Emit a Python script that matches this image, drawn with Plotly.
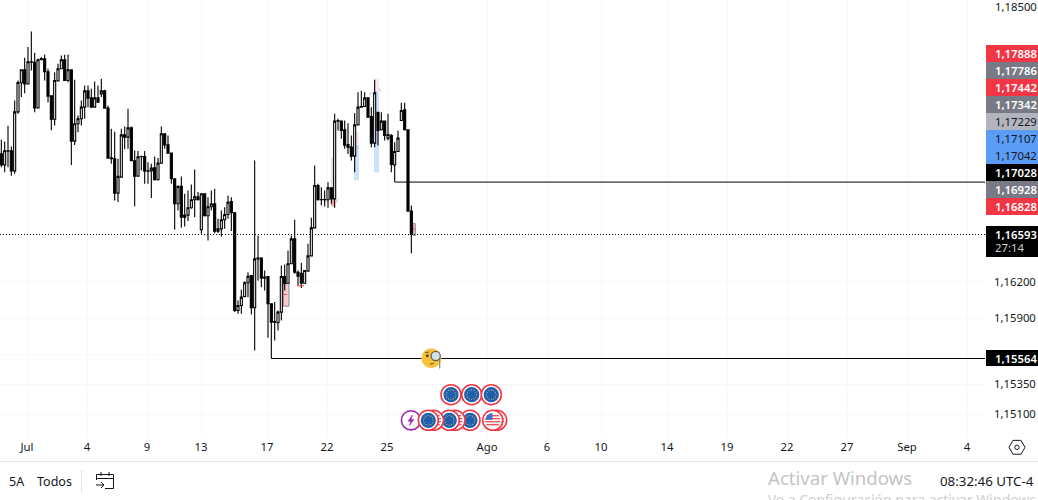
import math
import plotly.graph_objects as go

W, H = 1038, 500

opens = [1.17263,1.17171,1.17285,1.17288,1.17121,1.17611,1.17852,1.17960,1.17843,1.18026,1.18023,1.17644,1.18051,1.18051,1.17943,1.17744,1.17550,1.17868,1.17968,1.18043,
 1.17871,1.17960,1.17368,1.17512,1.17553,1.17650,1.17785,1.17727,1.17650,1.17727,1.17760,1.17785,1.17642,1.17229,1.17221,1.16936,1.17069,1.17420,1.17401,1.17478,
 1.17205,1.17077,1.17238,1.17240,1.17119,1.17121,1.17146,1.17047,1.17185,1.17429,1.17337,1.17268,1.17055,1.16848,1.16992,1.16737,1.16754,1.16815,1.16881,1.16906,
 1.16632,1.16931,1.16748,1.16823,1.16848,1.16621,1.16640,1.16715,1.16759,1.16867,1.16773,1.15962,1.16004,1.16079,1.16192,1.16253,1.15985,1.16391,1.16397,1.16231,
 1.16244,1.16018,1.15866,1.15860,1.15949,1.16244,1.16189,1.16350,1.16557,1.16280,1.16272,1.16189,1.16289,1.16416,1.16648,1.17000,1.16881,1.16883,1.16881,1.16980,
 1.16889,1.17534,1.17534,1.17462,1.17340,1.17318,1.17243,1.17503,1.17650,1.17655,1.17727,1.17572,1.17351,1.17608,1.17462,1.17534,1.17393,1.17415,1.17171,1.17282,
 1.17539,1.17628,1.17462,1.16787]
highs = [1.17379,1.17365,1.17495,1.17323,1.17705,1.17871,1.17960,1.18059,1.18150,1.18278,1.18101,1.18051,1.18065,1.18087,1.17968,1.17744,1.17940,1.18009,1.18079,1.18084,
 1.18087,1.17960,1.17877,1.17581,1.17705,1.17830,1.17830,1.17802,1.17863,1.17830,1.17885,1.17794,1.17664,1.17470,1.17445,1.17221,1.17470,1.17489,1.17636,1.17489,
 1.17290,1.17285,1.17249,1.17285,1.17193,1.17180,1.17240,1.17227,1.17489,1.17429,1.17415,1.17268,1.17055,1.17000,1.17075,1.16931,1.16958,1.17008,1.17133,1.16945,
 1.16936,1.16936,1.16903,1.16958,1.16972,1.16723,1.16792,1.16820,1.16917,1.16903,1.16780,1.16045,1.16134,1.16206,1.16280,1.16258,1.17207,1.16585,1.16405,1.16294,
 1.16244,1.16018,1.16032,1.15962,1.16336,1.16344,1.16460,1.16585,1.16715,1.16294,1.16358,1.16294,1.16516,1.16731,1.17166,1.17014,1.16986,1.16958,1.17027,1.16985,
 1.17594,1.17553,1.17539,1.17539,1.17517,1.17415,1.17600,1.17774,1.17783,1.17774,1.17733,1.17650,1.17877,1.17608,1.17608,1.17539,1.17594,1.17428,1.17359,1.17456,
 1.17686,1.17686,1.17462,1.16834]
lows = [1.17152,1.17110,1.17152,1.17080,1.17097,1.17594,1.17733,1.17766,1.17843,1.17954,1.17608,1.17644,1.18043,1.17871,1.17691,1.17459,1.17498,1.17868,1.17968,1.17871,
 1.17857,1.17169,1.17335,1.17442,1.17498,1.17553,1.17650,1.17644,1.17644,1.17691,1.17733,1.17636,1.17227,1.17180,1.16875,1.16862,1.17069,1.17301,1.17304,1.17205,
 1.16828,1.17077,1.17124,1.17014,1.17014,1.16895,1.17041,1.17041,1.17185,1.17304,1.17268,1.17014,1.16632,1.16792,1.16649,1.16660,1.16704,1.16806,1.16737,1.16875,
 1.16599,1.16743,1.16543,1.16792,1.16604,1.16604,1.16576,1.16640,1.16723,1.16621,1.15949,1.15935,1.15935,1.16073,1.16073,1.15929,1.15630,1.16211,1.16156,1.16128,
 1.15736,1.15564,1.15713,1.15796,1.15879,1.16128,1.16184,1.16350,1.16267,1.16170,1.16150,1.16189,1.16289,1.16416,1.16648,1.16875,1.16834,1.16825,1.16814,1.16848,
 1.16814,1.17456,1.17387,1.17304,1.17262,1.17207,1.17110,1.17503,1.17650,1.17655,1.17567,1.17318,1.17318,1.17332,1.17456,1.17373,1.17373,1.17110,1.17028,1.17282,
 1.17539,1.17456,1.16787,1.16438]
closes = [1.17171,1.17288,1.17288,1.17121,1.17611,1.17854,1.17960,1.17843,1.18026,1.18023,1.17644,1.18043,1.18043,1.17943,1.17741,1.17550,1.17871,1.17968,1.18043,1.17871,
 1.17960,1.17368,1.17512,1.17553,1.17650,1.17785,1.17725,1.17650,1.17727,1.17691,1.17785,1.17642,1.17227,1.17221,1.16936,1.17075,1.17420,1.17401,1.17478,1.17205,
 1.17077,1.17238,1.17240,1.17119,1.17121,1.17144,1.17047,1.17185,1.17429,1.17337,1.17268,1.17055,1.16848,1.16992,1.16737,1.16754,1.16815,1.16881,1.16906,1.16881,
 1.16931,1.16748,1.16823,1.16848,1.16621,1.16640,1.16715,1.16759,1.16861,1.16773,1.15962,1.16004,1.16073,1.16192,1.16247,1.15985,1.16391,1.16397,1.16231,1.16239,
 1.16018,1.15866,1.15870,1.15949,1.16244,1.16184,1.16350,1.16557,1.16280,1.16247,1.16189,1.16294,1.16416,1.16648,1.17000,1.16881,1.16883,1.16881,1.16980,1.16889,
 1.17534,1.17539,1.17456,1.17334,1.17318,1.17243,1.17503,1.17650,1.17655,1.17727,1.17567,1.17351,1.17769,1.17456,1.17534,1.17415,1.17423,1.17174,1.17282,1.17393,
 1.17622,1.17462,1.16787,1.16593]

date_tick_index = [7.7,25.7,43.7,59.9,79.7,97.7,115.7,145.7,163.7,179.9,199.7,217.7,235.7,253.7,271.7,289.7]
date_tick_text = ["Jul","4","9","13","17","22","25","Ago","6","10","14","19","22","27","Sep","4"]

price_ticks = [1.1620,1.1590,1.1560,1.1535,1.1510]
price_tick_text = ["1,16200","1,15900","1,15600","1,15350","1,15100"]

# right-hand price tags, top to bottom: text, background, text colour
tag_text = ["1,17888","1,17786","1,17442","1,17342","1,17229","1,17107","1,17042","1,17028","1,16928","1,16828"]
tag_fill = ["#f23645","#787b86","#f23645","#787b86","#b2b5be","#5b9cf6","#5b9cf6","#000000","#787b86","#f23645"]
tag_ink  = ["#ffffff","#ffffff","#ffffff","#ffffff","#131722","#131722","#131722","#ffffff","#ffffff","#ffffff"]

current_price = 1.16593
level_upper = 1.17028
level_upper_start = 118
level_lower = 1.15564
level_lower_start = 81

# zones: x0, x1, price0, price1, fill, outline
zones = [
 (84.6,86.3,1.16186,1.15998,"#f9c9ce","#8a8a95"),
 (105.8,107.3,1.17340,1.17042,"#cfe2fd",None),
 (105.8,107.3,1.17442,1.17342,"#fde6e8",None),
 (111.8,113.3,1.17786,1.17107,"#cfe2fd",None),
 (111.8,113.3,1.17888,1.17786,"#fde6e8",None),
 (98.9,100.1,1.16928,1.16828,"#f7a1a8",None),
 (98.9,99.6,1.17229,1.16983,"#e2e2e2",None),
 (123.5,124.2,1.16684,1.16585,"#f7c5c9","#8a8a95"),
]
red_ticks = [(88.7,90.8,1.16167),(84.7,85.6,1.16095),(123.5,124.0,1.16640)]
grey_marks = [(110.4,111.2,1.17749,1.17775),(113.3,113.9,1.17805,1.17781),
              (104.3,104.9,1.17303,1.17328),(106.5,107.1,1.17328,1.17303),
              (100.5,101.0,1.16860,1.16885),(97.0,97.6,1.16880,1.16860)]

XMAX = 295.1
XMIN = -0.4
YTOP = 1.185390
YBOT = 1.149125

fig = go.Figure()
fig.add_trace(go.Candlestick(
    x=list(range(len(opens))), open=opens, high=highs, low=lows, close=closes,
    increasing=dict(line=dict(color="#000000", width=1.1), fillcolor="#ffffff"),
    decreasing=dict(line=dict(color="#000000", width=1.1), fillcolor="#000000"),
    whiskerwidth=0, showlegend=False, hoverinfo="skip"))
for y_val, x_start, dash in [(level_upper, level_upper_start, "solid"),
                             (level_lower, level_lower_start, "solid"),
                             (current_price, XMIN, "1px,2px")]:
    fig.add_trace(go.Scatter(x=[x_start, XMAX], y=[y_val, y_val], mode="lines",
                             line=dict(color="#000000", width=1, dash=dash),
                             showlegend=False, hoverinfo="skip"))

shapes = []
for x0, x1, p0, p1, fill, line in zones:
    shapes.append(dict(type="rect", xref="x", yref="y", x0=x0, x1=x1, y0=p0, y1=p1,
                       fillcolor=fill, line=dict(color=line or fill, width=1 if line else 0),
                       layer="below"))
for x0, x1, p in red_ticks:
    shapes.append(dict(type="line", xref="x", yref="y", x0=x0, x1=x1, y0=p, y1=p,
                       line=dict(color="#f23645", width=1)))
for x0, x1, p0, p1 in grey_marks:
    shapes.append(dict(type="line", xref="x", yref="y", x0=x0, x1=x1, y0=p0, y1=p1,
                       line=dict(color="#b4b4b4", width=1), layer="below"))

px = lambda v: v / W
py = lambda v: 1 - v / H

def rect(x0, y0, x1, y1, fill, line=None):
    shapes.append(dict(type="rect", xref="paper", yref="paper", x0=px(x0), x1=px(x1),
                       y0=py(y1), y1=py(y0), fillcolor=fill,
                       line=dict(color=line or fill, width=1 if line else 0)))

def disc(cx, cy, r, fill, line=None, width=1.0):
    shapes.append(dict(type="circle", xref="paper", yref="paper", x0=px(cx - r), x1=px(cx + r),
                       y0=py(cy + r), y1=py(cy - r), fillcolor=fill,
                       line=dict(color=line or fill, width=width if line else 0)))

def path(points, color, width=1.0, close=False, fill=None):
    d = "M " + " L ".join(f"{px(a):.5f},{py(b):.5f}" for a, b in points) + (" Z" if close else "")
    shapes.append(dict(type="path", xref="paper", yref="paper", path=d,
                       line=dict(color=color, width=width),
                       fillcolor=fill or "rgba(0,0,0,0)"))

def eu(cx, cy):
    disc(cx, cy, 10, "#ffffff", "#f23645", 1.6)
    disc(cx, cy, 7.6, "#1f5fb0")
    for k in range(12):
        a = k * math.pi / 6
        disc(cx + 4.8 * math.cos(a), cy + 4.8 * math.sin(a), 0.55, "#f5c542")

def us(cx, cy):
    disc(cx, cy, 10, "#ffffff", "#f23645", 1.6)
    disc(cx, cy, 7.6, "#f7f7f7")
    for d, t in [(-4.6, 1.3), (-1.6, 1.3), (1.4, 1.3), (4.4, 1.3)]:
        half = math.sqrt(max(7.6 ** 2 - d ** 2, 0))
        path([(cx - half, cy + d), (cx + half, cy + d)], "#ef4a55", t)
    path([(cx - 5.6, cy - 4.7), (cx - 3, cy - 6.4), (cx - 0.5, cy - 7.1), (cx - 0.5, cy - 0.8), (cx - 7.1, cy - 0.8)],
         "#3f6fc4", 0.5, True, "#3f6fc4")

# current-price tags and strips
for i, (t, f) in enumerate(zip(tag_text, tag_fill)):
    rect(986, 45 + 17 * i, W, 62 + 17 * i, f)
rect(986, 226, W, 257, "#000000")
rect(986, 350, W, 366, "#000000")

# event icons
eu(451, 394.7); eu(471.7, 394.7); eu(491.3, 394.7)
disc(411, 420.3, 9.6, "#ffffff", "#9c27b0", 1.6)
path([(412.5, 414.8), (408, 421.2), (410.8, 421.2), (409.3, 425.8), (414, 419.4), (411.2, 419.4)],
     "#9c27b0", 0.5, True, "#9c27b0")
us(496.7, 420.3); us(492.7, 420.3); eu(470, 420.3); us(455, 420.3)
eu(449.3, 420.3); us(433.5, 420.3); eu(428.3, 420.3)

# monocle face
disc(431.3, 358.3, 10, "#f9c23c")
path([(439.7, 359), (439.7, 368.5)], "#8a8a8a", 1.2)
disc(435.7, 356, 4.6, "#cfe3ee", "#6a5a3a", 1.2)
disc(427.3, 355.8, 1.5, "#5a4a2a")
path([(425, 352.8), (428.8, 352)], "#6a5a2a", 1)
path([(429.8, 364.2), (434, 363.2)], "#6a5a2a", 1)

# bottom toolbar
path([(0, 461.5), (W, 461.5)], "#e0e3eb", 1)
path([(81.5, 470), (81.5, 492)], "#e0e3eb", 1)
path([(96.5, 480), (96.5, 474.5), (113.5, 474.5), (113.5, 488.5), (105, 488.5)], "#131722", 1)
path([(96.5, 478.5), (113.5, 478.5)], "#131722", 1)
path([(101, 472), (101, 476)], "#131722", 1)
path([(109, 472), (109, 476)], "#131722", 1)
path([(96, 485), (104, 485)], "#131722", 1)
path([(101, 482), (104, 485), (101, 488)], "#131722", 1)
# settings icon
hexa = [(1017 + 8 * math.cos(k * math.pi / 3), 447.3 + 8 * math.sin(k * math.pi / 3)) for k in range(6)]
path(hexa, "#131722", 1, True)
disc(1017, 447.3, 2.2, "#ffffff", "#131722", 1)

FONT = "Noto Sans"
notes = []
def label(x, y, text, size=11.3, color="#131722", anchor="left", font=FONT, weight=400):
    notes.append(dict(xref="paper", yref="paper", x=px(x), y=py(y), text=text, showarrow=False,
                      xanchor=anchor, yanchor="middle", align=anchor, borderpad=0,
                      font=dict(family=font, size=size, color=color, weight=weight)))

label(993.5, 6.5, "1,18500")
for i, (t, c) in enumerate(zip(tag_text, tag_ink)):
    label(993.5, 53.5 + 17 * i, t, color=c, weight=600 if c == "#ffffff" else 400)
label(993.5, 234, "1,16593", color="#ffffff", weight=600)
label(993.5, 247, "27:14", color="#d0d0d0")
label(993.5, 358, "1,15564", color="#ffffff", weight=600)
label(8, 481, "5A", 12.5)
label(36, 481, "Todos", 12.5)
label(1035, 481, "08:32:46 UTC-4", 13.3, anchor="right")
label(767, 477, "Activar Windows", 18.6, "#c4c4c4")
label(767, 499, "Ve a Configuración para activar Windows", 14, "#cfcfcf")

fig.update_layout(
    width=W, height=H, margin=dict(l=0, r=0, t=0, b=0, pad=0),
    paper_bgcolor="#ffffff", plot_bgcolor="#ffffff", showlegend=False,
    boxgap=0.12,
    font=dict(family=FONT, size=11.3, color="#131722"),
    shapes=shapes, annotations=notes,
    xaxis=dict(domain=[0, 985 / W], range=[XMIN, XMAX], rangeslider=dict(visible=False),
               tickmode="array", tickvals=date_tick_index, ticktext=date_tick_text,
               showgrid=True, gridcolor="#f8f8f8", gridwidth=1, zeroline=False, showline=False,
               ticks="", tickangle=0, ticklabelstandoff=2,
               tickfont=dict(family=FONT, size=11.3, color="#131722")),
    yaxis=dict(domain=[(H - 437) / H, 1], range=[YBOT, YTOP], side="right",
               tickmode="array", tickvals=price_ticks, ticktext=price_tick_text,
               showgrid=True, gridcolor="#f8f8f8", gridwidth=1, zeroline=False, showline=False,
               ticks="", ticklabelstandoff=8, tickfont=dict(family=FONT, size=11.3, color="#131722")),
)
fig.write_html("out.html", config=dict(displayModeBar=False),
               post_script="document.body.style.margin='0';document.body.style.overflow='hidden';")
